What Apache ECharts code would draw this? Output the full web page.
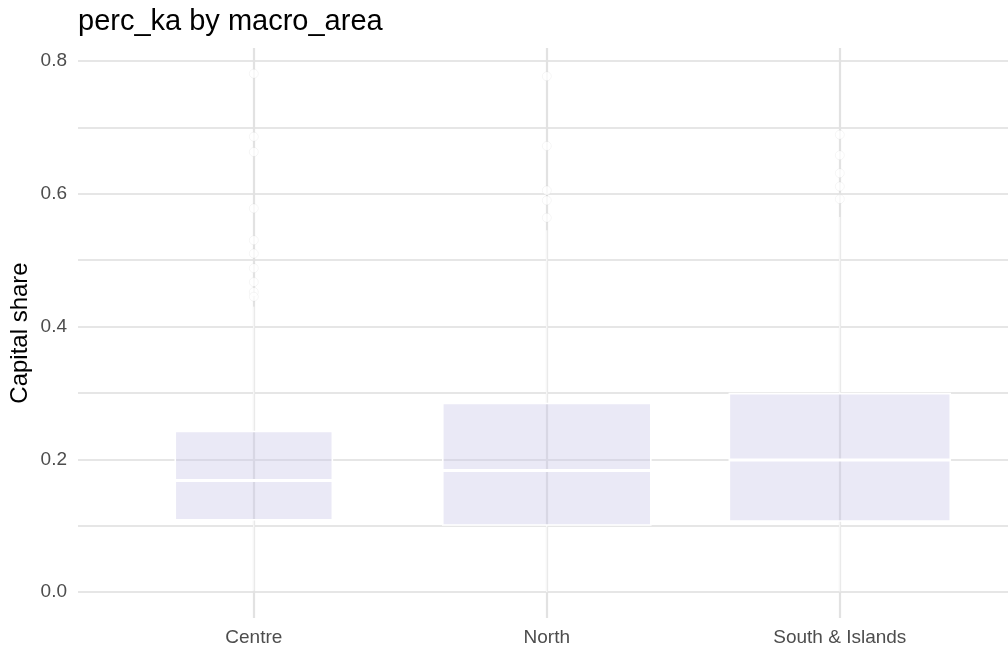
<!DOCTYPE html>
<html>
<head>
<meta charset="utf-8">
<title>perc_ka by macro_area</title>
<script src="https://cdn.jsdelivr.net/npm/echarts@6/dist/echarts.min.js"></script>
<style>
  html, body { margin: 0; padding: 0; background: #ffffff; }
  #chart { width: 1008px; height: 651px; }
</style>
</head>
<body>
<div id="chart"></div>
<script>
// Capital share (perc_ka) summarised per macro area
const categories = ['Centre', 'North', 'South & Islands'];
const whiskerLow  = [0.002, 0.000, 0.001];
const quartile1   = [0.109, 0.101, 0.107];
const medians     = [0.168, 0.183, 0.199];
const quartile3   = [0.242, 0.284, 0.299];
const whiskerHigh = [0.430, 0.545, 0.565];

// Points beyond the upper whisker, per area
const outliersCentre = [0.781, 0.686, 0.663, 0.578, 0.530, 0.510, 0.488, 0.467, 0.452, 0.445];
const outliersNorth  = [0.777, 0.672, 0.605, 0.590, 0.564];
const outliersSouth  = [0.689, 0.658, 0.631, 0.611, 0.592];

const yTicks = [0, 0.2, 0.4, 0.6, 0.8];
const yGridValues = [0, 0.1, 0.2, 0.3, 0.4, 0.5, 0.6, 0.7, 0.8];

// Box widths (in category units) scale with group size
const boxWidths = [0.536, 0.71, 0.754];

const boxData = categories.map((c, i) => [i + 1, whiskerLow[i], quartile1[i], medians[i], quartile3[i], whiskerHigh[i]]);
const outlierData = []
  .concat(outliersCentre.map(v => [1, v]))
  .concat(outliersNorth.map(v => [2, v]))
  .concat(outliersSouth.map(v => [3, v]));

const FONT = "'Liberation Sans', Arial, sans-serif";

function renderBox(params, api) {
  const i = params.dataIndex;
  const x = api.value(0);
  const lo = api.coord([x, api.value(1)]);
  const q1 = api.coord([x, api.value(2)]);
  const md = api.coord([x, api.value(3)]);
  const q3 = api.coord([x, api.value(4)]);
  const hi = api.coord([x, api.value(5)]);
  const w = api.size([boxWidths[i], 0])[0];
  const cx = lo[0];
  const left = cx - w / 2;
  return {
    type: 'group',
    children: [
      { type: 'line', shape: { x1: cx, y1: q3[1], x2: cx, y2: hi[1] },
        style: { stroke: '#ffffff', lineWidth: 1 } },
      { type: 'line', shape: { x1: cx, y1: q1[1], x2: cx, y2: lo[1] },
        style: { stroke: '#ffffff', lineWidth: 1 } },
      { type: 'rect', shape: { x: left, y: q3[1], width: w, height: q1[1] - q3[1] },
        style: { fill: 'rgba(200,196,232,0.38)', stroke: '#ffffff', lineWidth: 1.6 } },
      { type: 'line', shape: { x1: left, y1: md[1], x2: left + w, y2: md[1] },
        style: { stroke: '#ffffff', lineWidth: 3 } }
    ]
  };
}

const chart = echarts.init(document.getElementById('chart'), null, { renderer: 'canvas' });
chart.setOption({
  backgroundColor: '#ffffff',
  animation: false,
  title: {
    text: 'perc_ka by macro_area',
    left: 78,
    top: 7,
    padding: 0,
    textStyle: { fontFamily: FONT, fontSize: 29, fontWeight: 'normal', color: '#000000' }
  },
  grid: { left: 78, top: 48, width: 937.6, height: 570, containLabel: false, outerBoundsMode: 'none' },
  xAxis: {
    type: 'value',
    min: 0.4,
    max: 3.6,
    axisLine: { show: false },
    axisTick: { show: false, customValues: [1, 2, 3] },
    axisLabel: {
      customValues: [1, 2, 3],
      formatter: v => categories[Math.round(v) - 1],
      color: '#4d4d4d',
      fontFamily: FONT,
      fontSize: 19,
      margin: 10
    },
    splitLine: { show: true, lineStyle: { color: '#e2e2e2', width: 2.2 } }
  },
  yAxis: {
    type: 'value',
    min: -0.039,
    max: 0.8196,
    name: 'Capital share',
    nameLocation: 'middle',
    nameGap: 46,
    nameMoveOverlap: false,
    nameTextStyle: { fontFamily: FONT, fontSize: 24, color: '#000000' },
    axisLine: { show: false },
    axisTick: { show: false, customValues: yGridValues },
    axisLabel: {
      customValues: yTicks,
      formatter: v => v.toFixed(1),
      color: '#4d4d4d',
      fontFamily: FONT,
      fontSize: 19,
      margin: 11
    },
    splitLine: { show: true, lineStyle: { color: '#dedede', width: 1.7 } }
  },
  series: [
    {
      type: 'custom',
      name: 'perc_ka',
      renderItem: renderBox,
      encode: { x: 0, y: [1, 2, 3, 4, 5] },
      data: boxData,
      z: 3
    },
    {
      type: 'scatter',
      name: 'outliers',
      data: outlierData,
      symbol: 'circle',
      symbolSize: 9,
      itemStyle: { color: '#ffffff', borderColor: 'rgba(0,0,0,0.05)', borderWidth: 1 },
      z: 4
    }
  ]
});
</script>
</body>
</html>
